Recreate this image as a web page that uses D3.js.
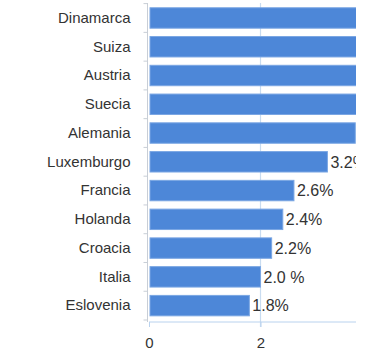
<!DOCTYPE html>
<html>
<head>
<meta charset="utf-8">
<script src="https://cdn.jsdelivr.net/npm/d3@7"></script>
<style>
  body { margin: 0; background: #fff; }
  svg { display: block; font-family: "Liberation Sans", Arial, sans-serif; }
</style>
</head>
<body>
<svg></svg>
<script>
var countries = ["Dinamarca", "Suiza", "Austria", "Suecia", "Alemania", "Luxemburgo",
                 "Francia", "Holanda", "Croacia", "Italia", "Eslovenia"];
var values = [5.0, 4.6, 4.2, 4.0, 3.7, 3.2, 2.6, 2.4, 2.2, 2.0, 1.8];
var valueLabels = ["5.0%", "4.6%", "4.2%", "4.0%", "3.7%", "3.2%", "2.6%", "2.4%", "2.2%", "2.0 %", "1.8%"];
var xTicks = [0, 2];

var screen = {width: 367, height: 353};
var cropX = 356; // the picture is cut off here

var data = countries.map(function(c, i) {
  return {name: c, value: values[i], label: valueLabels[i]};
});

var svg = d3.select("svg")
            .attr("width", screen.width)
            .attr("height", screen.height);

var xScale = d3.scaleLinear()
               .domain([0, 2])
               .range([149, 260.5]);

var yScale = d3.scaleBand()
               .domain(countries)
               .range([3.6, 320])
               .paddingInner(0.29)
               .paddingOuter(0.145);

svg.append("defs").append("clipPath")
   .attr("id", "crop")
   .append("rect")
   .attr("x", 0).attr("y", 0)
   .attr("width", cropX).attr("height", screen.height);

var plot = svg.append("g").attr("clip-path", "url(#crop)");

// vertical gridline at 2
plot.append("line")
    .attr("x1", xScale(2)).attr("x2", xScale(2))
    .attr("y1", 3).attr("y2", 327)
    .attr("stroke", "#c9dcf0")
    .attr("stroke-width", 1.2);

// bars
plot.selectAll("rect.bar")
    .data(data)
    .enter()
    .append("rect")
    .classed("bar", true)
    .attr("x", xScale(0) + 1)
    .attr("y", function(d) { return yScale(d.name); })
    .attr("width", function(d) { return xScale(d.value) - xScale(0) - 1; })
    .attr("height", yScale.bandwidth())
    .attr("fill", "#4d87d8")
    .attr("stroke", "#7aa6e3")
    .attr("stroke-width", 1);

// value labels (only those that start inside the visible part)
plot.selectAll("text.val")
    .data(data.filter(function(d) { return xScale(d.value) + 3 < cropX; }))
    .enter()
    .append("text")
    .classed("val", true)
    .attr("x", function(d) { return xScale(d.value) + 3; })
    .attr("y", function(d) { return yScale(d.name) + yScale.bandwidth() / 2; })
    .attr("dy", "0.36em")
    .attr("font-size", 16)
    .attr("fill", "#333")
    .text(function(d) { return d.label; });

// y axis (category labels)
var yAxis = d3.axisLeft(yScale).tickSize(0).tickPadding(17);
var yG = svg.append("g")
            .attr("transform", "translate(147.5,0)")
            .call(yAxis);
yG.select(".domain").attr("stroke", "#c8ced6").attr("d", "M0,3V322");
yG.selectAll("text")
  .attr("font-size", 15)
  .attr("fill", "#333")
  .attr("font-family", "Liberation Sans, Arial, sans-serif");

// little ticks between categories
var bounds = countries.map(function(c) { return yScale(c) - yScale.step() * yScale.paddingInner() / 2; });
bounds.push(320);
yG.selectAll("line.sep")
  .data(bounds)
  .enter()
  .append("line")
  .classed("sep", true)
  .attr("x1", -4).attr("x2", 0)
  .attr("y1", function(d) { return d; })
  .attr("y2", function(d) { return d; })
  .attr("stroke", "#c8ced6");

// x axis
var xAxis = d3.axisBottom(xScale).tickValues(xTicks).tickFormat(d3.format("d"))
              .tickSize(5).tickPadding(10);
var xG = plot.append("g")
             .attr("transform", "translate(0,322)")
             .call(xAxis);
xG.select(".domain").attr("stroke", "#b9d2ee").attr("d", "M149,0H" + cropX);
xG.selectAll("line").attr("stroke", "#b9d2ee");
xG.selectAll("text")
  .attr("font-size", 15)
  .attr("fill", "#333")
  .attr("font-family", "Liberation Sans, Arial, sans-serif");
</script>
</body>
</html>
